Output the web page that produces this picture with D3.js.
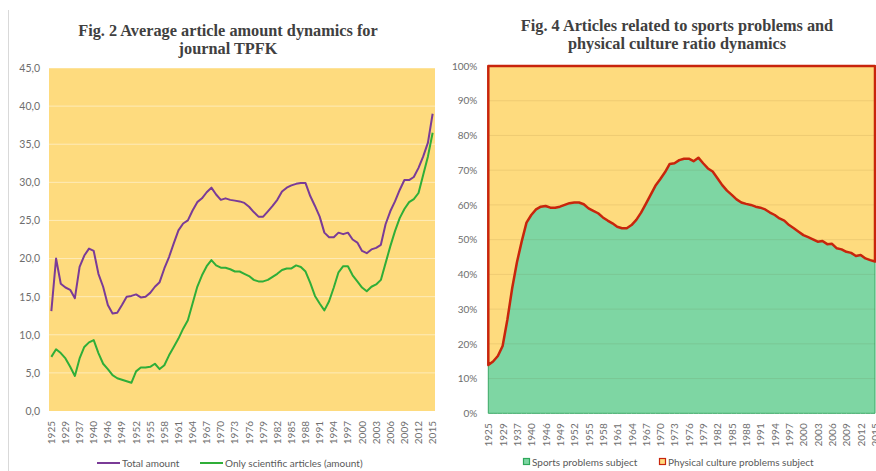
<!DOCTYPE html>
<html>
<head>
<meta charset="utf-8">
<script src="https://cdn.jsdelivr.net/npm/d3@7"></script>
<style>
  body { margin: 0; background: #ffffff; }
  svg { display: block; }
  .tick text { font-family: Lato, "Open Sans", sans-serif; fill: #6e6e6e; }
  .title { font-family: "Liberation Serif", "Times New Roman", serif; font-weight: bold; fill: #404040; font-size: 16.3px; }
  .legend { font-family: Lato, "Open Sans", sans-serif; fill: #595959; font-size: 10px; }
</style>
</head>
<body>
<svg id="chart"></svg>
<script>
// categories (years of the journal, with gaps before 1946)
const years = [1925, 1926, 1928, 1929, 1930, 1936, 1937, 1938, 1939, 1940, 1941, 1945,
    1946, 1947, 1948, 1949, 1950, 1951, 1952, 1953, 1954, 1955, 1956, 1957, 1958, 1959,
    1960, 1961, 1962, 1963, 1964, 1965, 1966, 1967, 1968, 1969, 1970, 1971, 1972, 1973,
    1974, 1975, 1976, 1977, 1978, 1979, 1980, 1981, 1982, 1983, 1984, 1985, 1986, 1987,
    1988, 1989, 1990, 1991, 1992, 1993, 1994, 1995, 1996, 1997, 1998, 1999, 2000, 2001,
    2002, 2003, 2004, 2005, 2006, 2007, 2008, 2009, 2010, 2011, 2012, 2013, 2014, 2015];

// fig. 2 series
const totalAmount = [13.1, 20.0, 16.7, 16.2, 15.9, 14.8, 18.9, 20.4, 21.3, 21.0,
    18.0, 16.3, 13.9, 12.8, 12.9, 13.9, 15.0, 15.1, 15.3, 14.9,
    15.0, 15.5, 16.3, 16.9, 18.7, 20.2, 22.0, 23.7, 24.6, 25.0,
    26.3, 27.4, 27.9, 28.7, 29.3, 28.4, 27.7, 27.9, 27.7, 27.6,
    27.5, 27.3, 26.8, 26.1, 25.5, 25.5, 26.2, 26.9, 27.7, 28.8,
    29.3, 29.6, 29.8, 29.9, 29.9, 28.2, 26.9, 25.5, 23.4, 22.8,
    22.8, 23.4, 23.2, 23.4, 22.5, 22.1, 21.0, 20.7, 21.2, 21.4,
    21.8, 24.5, 26.2, 27.5, 29.0, 30.3, 30.3, 30.7, 31.9, 33.4,
    35.2, 39.0];
const scientificAmount = [7.1, 8.1, 7.6, 6.9, 5.8, 4.6, 6.9, 8.4, 9.0, 9.3,
    7.6, 6.2, 5.5, 4.7, 4.3, 4.1, 3.9, 3.7, 5.2, 5.7,
    5.7, 5.8, 6.2, 5.5, 6.0, 7.3, 8.4, 9.5, 10.8, 11.9,
    14.1, 16.3, 17.8, 19.0, 19.8, 19.1, 18.8, 18.8, 18.6, 18.3,
    18.3, 18.0, 17.7, 17.2, 17.0, 17.0, 17.2, 17.6, 18.0, 18.5,
    18.7, 18.7, 19.1, 18.9, 18.3, 16.8, 15.1, 14.1, 13.2, 14.4,
    16.2, 18.2, 19.0, 19.0, 17.8, 17.0, 16.2, 15.7, 16.3, 16.6,
    17.2, 19.4, 21.6, 23.6, 25.3, 26.5, 27.4, 27.8, 28.6, 31.0,
    33.4, 36.5];

// fig. 4 series (percent)
const sportsShare = [13.9, 14.9, 16.5, 19.4, 27.0, 36.0, 43.5, 49.5, 54.9, 57.1,
    58.7, 59.5, 59.7, 59.2, 59.2, 59.5, 60.0, 60.5, 60.7, 60.7,
    60.2, 59.0, 58.3, 57.6, 56.4, 55.5, 54.7, 53.7, 53.3, 53.3,
    54.2, 55.7, 57.8, 60.3, 62.9, 65.5, 67.4, 69.4, 71.8, 72.0,
    72.9, 73.3, 73.3, 72.6, 73.6, 72.0, 70.5, 69.6, 67.7, 65.7,
    64.1, 62.9, 61.6, 60.7, 60.3, 60.0, 59.5, 59.2, 58.7, 57.8,
    57.1, 56.1, 55.5, 54.2, 53.3, 52.3, 51.3, 50.7, 50.1, 49.4,
    49.6, 48.7, 48.8, 47.5, 47.2, 46.5, 46.2, 45.3, 45.6, 44.6,
    44.1, 43.7];
const physicalShare = [86.1, 85.1, 83.5, 80.6, 73.0, 64.0, 56.5, 50.5, 45.1, 42.9,
    41.3, 40.5, 40.3, 40.8, 40.8, 40.5, 40.0, 39.5, 39.3, 39.3,
    39.8, 41.0, 41.7, 42.4, 43.6, 44.5, 45.3, 46.3, 46.7, 46.7,
    45.8, 44.3, 42.2, 39.7, 37.1, 34.5, 32.6, 30.6, 28.2, 28.0,
    27.1, 26.7, 26.7, 27.4, 26.4, 28.0, 29.5, 30.4, 32.3, 34.3,
    35.9, 37.1, 38.4, 39.3, 39.7, 40.0, 40.5, 40.8, 41.3, 42.2,
    42.9, 43.9, 44.5, 45.8, 46.7, 47.7, 48.7, 49.3, 49.9, 50.6,
    50.4, 51.3, 51.2, 52.5, 52.8, 53.5, 53.8, 54.7, 54.4, 55.4,
    55.9, 56.3];

// tick labels
const leftTicks = [0, 5, 10, 15, 20, 25, 30, 35, 40, 45];
const rightTicks = [0, 10, 20, 30, 40, 50, 60, 70, 80, 90, 100];
const yearTicks = years.filter((d, i) => i % 3 === 0);

// colors
const plotFill = '#fedb7e';
const purple = '#7a3b97';
const green = '#2fae38';
const areaGreen = '#7ed6a3';
const red = '#c8250c';

const width = 876;
const height = 471;

const svg = d3.select('#chart')
    .attr('width', width)
    .attr('height', height);

// thin frame edge on the far left
svg.append('line')
    .attr('x1', 8.5).attr('x2', 8.5)
    .attr('y1', 10).attr('y2', height)
    .attr('stroke', '#d9d9d9');

function yearAxis(g, x) {
    g.call(d3.axisBottom(x).tickValues(yearTicks).tickSize(0));
    g.select('.domain').remove();
    g.selectAll('.tick text')
        .attr('y', 0)
        .attr('x', -10)
        .attr('dy', '0.35em')
        .attr('transform', 'rotate(-90)')
        .style('text-anchor', 'end')
        .style('font-size', '10px');
}

// ---------- Fig. 2 ----------
{
    const left = 49, right = 435, top = 68, bottom = 411;
    const x = d3.scaleBand().domain(years).range([left, right]);
    const cx = d => x(d) + x.bandwidth() / 2;
    const y = d3.scaleLinear().domain([0, 45]).range([bottom, top]);

    svg.append('rect')
        .attr('x', left).attr('y', top)
        .attr('width', right - left).attr('height', bottom - top)
        .attr('fill', plotFill);

    svg.append('g')
        .selectAll('line')
        .data(leftTicks.slice(1))
        .enter()
        .append('line')
            .attr('x1', left).attr('x2', right)
            .attr('y1', d => y(d)).attr('y2', d => y(d))
            .attr('stroke', 'rgba(255,255,255,0.45)');

    const yAxis = svg.append('g')
        .attr('transform', `translate(${left},0)`)
        .call(d3.axisLeft(y).tickValues(leftTicks).tickSize(0).tickPadding(9)
            .tickFormat(d => d3.format('.1f')(d).replace('.', ',')));
    yAxis.select('.domain').remove();
    yAxis.selectAll('text').style('font-size', '10.5px');

    svg.append('g')
        .attr('transform', `translate(0,${bottom})`)
        .call(yearAxis, x);

    const line = d3.line().x((d, i) => cx(years[i])).y(d => y(d));

    svg.append('path')
        .datum(totalAmount)
        .attr('d', line)
        .attr('fill', 'none')
        .attr('stroke', purple)
        .attr('stroke-width', 2)
        .attr('stroke-linejoin', 'round');

    svg.append('path')
        .datum(scientificAmount)
        .attr('d', line)
        .attr('fill', 'none')
        .attr('stroke', green)
        .attr('stroke-width', 2)
        .attr('stroke-linejoin', 'round');

    const title = svg.append('text').attr('class', 'title').attr('text-anchor', 'middle');
    title.append('tspan').attr('x', 228).attr('y', 36).text('Fig. 2 Average article amount dynamics for');
    title.append('tspan').attr('x', 228).attr('y', 54).text('journal TPFK');

    const legend = [
        { name: 'Total amount', color: purple, x: 97 },
        { name: 'Only scientific articles (amount)', color: green, x: 200 },
    ];
    const lg = svg.append('g').selectAll('g').data(legend).enter().append('g')
        .attr('transform', d => `translate(${d.x},463)`);
    lg.append('line').attr('x1', 0).attr('x2', 23).attr('stroke', d => d.color).attr('stroke-width', 2);
    lg.append('text').attr('class', 'legend').attr('x', 25).attr('dy', '0.35em').text(d => d.name);
}

// ---------- Fig. 4 ----------
{
    const left = 488.3, right = 875, top = 66, bottom = 413.3;
    const x = d3.scalePoint().domain(years).range([left, right]);
    const y = d3.scaleLinear().domain([0, 100]).range([bottom, top]);

    const rows = years.map((d, i) => ({ year: d, sports: sportsShare[i], physical: physicalShare[i] }));
    const stacked = d3.stack().keys(['sports', 'physical'])(rows);

    const area = d3.area()
        .x(d => x(d.data.year))
        .y0(d => y(d[0]))
        .y1(d => y(d[1]));

    svg.append('path')
        .datum(stacked[1])
        .attr('d', area)
        .attr('fill', plotFill);

    svg.append('path')
        .datum(stacked[0])
        .attr('d', area)
        .attr('fill', areaGreen)
        .attr('stroke', '#3aa864')
        .attr('stroke-width', 1);

    svg.append('g')
        .selectAll('line')
        .data(rightTicks.slice(1, -1))
        .enter()
        .append('line')
            .attr('x1', left).attr('x2', right)
            .attr('y1', d => y(d)).attr('y2', d => y(d))
            .attr('stroke', 'rgba(90,60,0,0.09)');

    svg.append('path')
        .datum(stacked[1])
        .attr('d', area)
        .attr('fill', 'none')
        .attr('stroke', red)
        .attr('stroke-width', 2.5)
        .attr('stroke-linejoin', 'round');

    const yAxis = svg.append('g')
        .attr('transform', `translate(${left},0)`)
        .call(d3.axisLeft(y).tickValues(rightTicks).tickSize(0).tickPadding(11)
            .tickFormat(d => d + '%'));
    yAxis.select('.domain').remove();
    yAxis.selectAll('text').style('font-size', '10px');

    svg.append('g')
        .attr('transform', `translate(0,${bottom})`)
        .call(yearAxis, x);

    const title = svg.append('text').attr('class', 'title').attr('text-anchor', 'middle');
    title.append('tspan').attr('x', 677).attr('y', 31).text('Fig. 4 Articles related to sports problems and');
    title.append('tspan').attr('x', 677).attr('y', 49).text('physical culture ratio dynamics');

    const legend = [
        { name: 'Sports problems subject', fill: areaGreen, stroke: '#2fa85a', x: 523 },
        { name: 'Physical culture problems subject', fill: plotFill, stroke: red, x: 659 },
    ];
    const lg = svg.append('g').selectAll('g').data(legend).enter().append('g')
        .attr('transform', d => `translate(${d.x},462)`);
    lg.append('rect').attr('x', 0.5).attr('y', -3.5).attr('width', 6).attr('height', 6)
        .attr('fill', d => d.fill).attr('stroke', d => d.stroke).attr('stroke-width', 1.2);
    lg.append('text').attr('class', 'legend').attr('x', 9).attr('dy', '0.35em').text(d => d.name);
}
</script>
</body>
</html>
